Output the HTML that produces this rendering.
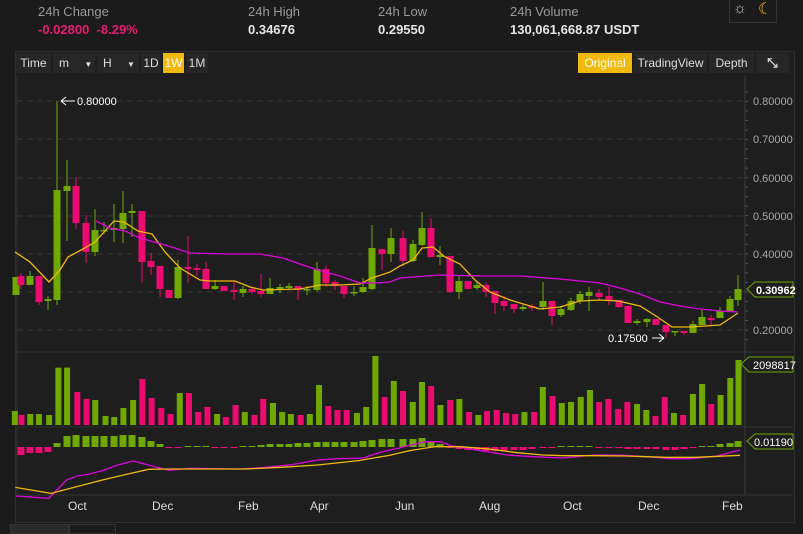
<!DOCTYPE html>
<html><head><meta charset="utf-8"><style>
body{margin:0;width:803px;height:532px;background:#1b1b1b;overflow:hidden;font-family:"Liberation Sans",sans-serif;position:relative}
.t{position:absolute;white-space:nowrap}
.lab{color:#9a9a9a;font-size:13px}
.val{color:#e6e6e6;font-size:13px;font-weight:bold}
.btn{position:absolute;top:53px;height:20px;line-height:20px;font-size:12px;color:#ddd;background:#262626;text-align:center}
.y{background:#f0b90b;color:#fff}
</style></head><body>
<div class="t lab" style="left:38px;top:4px">24h Change</div>
<div class="t val" style="left:38px;top:22px;color:#ea1a6e">-0.02800 &nbsp;-8.29%</div>
<div class="t lab" style="left:248px;top:4px">24h High</div>
<div class="t val" style="left:248px;top:22px">0.34676</div>
<div class="t lab" style="left:378px;top:4px">24h Low</div>
<div class="t val" style="left:378px;top:22px">0.29550</div>
<div class="t lab" style="left:510px;top:4px">24h Volume</div>
<div class="t val" style="left:510px;top:22px">130,061,668.87 USDT</div>
<div style="position:absolute;left:729px;top:0;width:46px;height:22px;border:1px solid #333;border-top:none"></div>
<div class="t" style="left:733px;top:0;color:#ccc;font-size:15px">☼</div>
<div class="t" style="left:758px;top:-1px;color:#f0b90b;font-size:16px">☾</div>
<div style="position:absolute;left:15px;top:51px;width:778px;height:470px;background:#1e1e1e;border:1px solid #2e2e2e"></div>
<div class="btn" style="left:16px;width:35px">Time</div>
<div class="btn" style="left:53px;width:42px;text-align:left;padding-left:6px;box-sizing:border-box">m <span style="font-size:8px;margin-left:12px">▼</span></div>
<div class="btn" style="left:97px;width:42px;text-align:left;padding-left:6px;box-sizing:border-box">H <span style="font-size:8px;margin-left:12px">▼</span></div>
<div class="btn" style="left:141px;width:20px">1D</div>
<div class="btn y" style="left:163px;width:21px">1W</div>
<div class="btn" style="left:186px;width:22px">1M</div>
<div class="btn y" style="left:578px;width:54px">Original</div>
<div class="btn" style="left:634px;width:73px">TradingView</div>
<div class="btn" style="left:709px;width:45px">Depth</div>
<div class="btn" style="left:756px;width:33px;font-weight:bold;font-size:13px">⤡</div>
<svg id="s" width="803" height="532" style="position:absolute;left:0;top:0" font-family="Liberation Sans, sans-serif">
<g id="g"></g>
<g fill="#a8a8a8" font-size="11">
<text x="753" y="105">0.80000</text><text x="753" y="143">0.70000</text><text x="753" y="182">0.60000</text>
<text x="753" y="220">0.50000</text><text x="753" y="258">0.40000</text><text x="753" y="334">0.20000</text>
</g>
<g fill="#ddd" font-size="12">
<text x="68" y="510">Oct</text><text x="152" y="510">Dec</text><text x="238" y="510">Feb</text><text x="310" y="510">Apr</text>
<text x="395" y="510">Jun</text><text x="479" y="510">Aug</text><text x="563" y="510">Oct</text><text x="638" y="510">Dec</text><text x="722" y="510">Feb</text>
</g>
<text x="77" y="105" fill="#fff" font-size="11">0.80000</text>
<path d="M61 101H75M61 101l5-4M61 101l5 4" stroke="#fff" fill="none"/>
<text x="608" y="342" fill="#fff" font-size="11">0.17500</text>
<path d="M652 338H664M664 338l-5-4M664 338l-5 4" stroke="#fff" fill="none"/>
<path d="M747 289l8-7h38v15h-38z" fill="#1e1e1e" stroke="#6fa800"/>
<text x="756" y="294" fill="#fff" font-size="11" font-weight="bold">0.30962</text>
<path d="M741 364l8-7h44v15h-44z" fill="#1e1e1e" stroke="#6fa800"/>
<text x="753" y="369" fill="#fff" font-size="11">2098817</text>
<path d="M747 441l8-7h38v15h-38z" fill="#1e1e1e" stroke="#6fa800"/>
<text x="754" y="446" fill="#fff" font-size="11">0.01190</text>
</svg>
<div style="position:absolute;left:10px;top:524px;width:58px;height:8px;background:#2a2a2a;border:1px solid #333"></div>
<div style="position:absolute;left:68px;top:524px;width:46px;height:8px;border:1px solid #333"></div>
<script>
var G='#6fa800',P='#ea0a70',h='',K=803/1568;
function ln(x1,y1,x2,y2,c,extra){h+='<line x1="'+x1+'" y1="'+y1+'" x2="'+x2+'" y2="'+y2+'" stroke="'+c+'" '+(extra||'')+'/>';}
[101,139,178,216,254,292,330].forEach(function(y){ln(17,y,745,y,'#353535','stroke-dasharray="6,4"');});
for(var p=0.175;p<0.83;p+=0.025){var y=330-(p-0.2)*381;ln(745,y,748,y,'#555');}
ln(745,76,745,495,'#3a3a3a');ln(17,352,793,352,'#333');ln(17,427,793,427,'#333');ln(17,495,793,495,'#333');ln(17,76,17,495,'#333');
var C=[[16,277,295,277,295,G],[21,276,285,273,289,P],[30,276,285,271,285,G],[39,276,302,276,305,P],[48,299,301,296,310,G],[57,190,300,101,305,G],[67,186,191,160,241,G],[76,186,223,177,229,P],[86,223,252,215,263,P],[95,230,252,209,256,G],[104,230,231,222,234,G],[114,228,230,204,242,G],[123,213,229,191,243,G],[132,211,213,204,237,G],[142,211,262,211,283,P],[151,261,267,253,275,P],[160,266,289,266,297,P],[169,290,298,290,298,P],[178,267,298,260,299,G],[188,267,269,236,283,P],[197,268,270,264,276,P],[206,269,289,262,289,P],[215,286,289,280,290,G],[224,286,291,286,291,P],[234,290,292,281,300,P],[243,289,293,286,297,G],[252,289,292,287,294,P],[261,291,294,274,297,P],[270,288,294,278,294,G],[280,287,289,284,293,G],[289,286,288,283,290,G],[298,286,290,286,300,P],[307,289,290,286,295,G],[317,269,290,262,292,G],[326,269,283,266,287,P],[335,282,286,280,290,P],[344,286,294,286,298,P],[354,292,293,286,296,G],[363,287,292,278,293,G],[372,248,289,225,290,G],[382,249,254,249,270,P],[391,238,254,228,262,G],[403,238,261,231,266,P],[413,244,261,240,262,G],[422,228,245,212,246,G],[431,228,257,218,257,P],[440,255,257,246,265,G],[450,256,292,256,293,P],[459,281,292,276,299,G],[468,281,289,281,289,P],[477,285,288,282,290,G],[486,285,292,282,297,P],[495,291,303,291,314,P],[504,301,306,296,311,P],[514,304,309,304,313,P],[523,307,309,305,311,G],[532,306,308,304,311,P],[543,301,307,282,310,G],[552,301,316,301,325,P],[561,309,315,306,317,G],[571,301,310,298,311,G],[580,294,301,291,304,G],[589,292,296,287,311,G],[599,293,297,289,300,P],[609,296,301,287,305,P],[619,300,307,300,308,P],[628,306,323,306,323,P],[637,321,323,319,325,G],[647,319,322,318,327,G],[656,319,325,319,325,P],[666,325,332,325,338,P],[675,331,332,331,336,G],[684,331,333,331,335,P],[693,324,333,321,333,G],[702,317,325,309,325,G],[711,318,320,315,325,P],[720,311,318,307,318,G],[730,299,312,296,312,G],[738,289,300,275,306,G]];
C.forEach(function(c){ln(c[0],c[3],c[0],c[4],c[5]);h+='<rect x="'+(c[0]-3.5)+'" y="'+c[1]+'" width="7" height="'+Math.max(1.5,c[2]-c[1])+'" fill="'+c[5]+'"/>';});
function pl(pts,c,sx,sy,ox,oy){var s=[];for(var i=0;i<pts.length;i+=2)s.push((ox+pts[i]*sx)+','+(oy+pts[i+1]*sy));h+='<polyline points="'+s.join(' ')+'" fill="none" stroke="'+c+'" stroke-width="1.3"/>';}
pl([15,252,30,262,49,282,60,270,68,257,83,249,95,242,114,221,124,222,138,231,152,234,165,252,180,268,200,280,210,281,235,281,250,287,263,290,300,289,320,285,340,285,360,284,372,278,390,272,400,266,413,260,422,248,433,247,445,257,460,264,475,280,490,292,510,300,540,309,560,307,580,301,600,300,618,301,640,306,656,316,672,327,690,327,720,325,738,313],'#f0b90b',1,1,0,0);
pl([96,221,110,228,125,231,140,238,165,245,190,253,225,254,260,254,283,258,300,264,315,269,340,276,360,283,375,283,390,282,400,278,440,275,480,276,520,276,560,279,600,283,620,288,640,294,660,302,680,306,700,309,720,311,738,312],'#e000e0',1,1,0,0);
var V=[[29,'g',183],[42,'p',195],[59,'g',192],[76,'g',192],[96,'g',195],[114,'g',53],[131,'g',53],[151,'p',126],[169,'p',147],[186,'g',150],[206,'g',198],[223,'g',201],[241,'g',174],[260,'g',150],[278,'p',87],[296,'p',144],[315,'p',174],[333,'p',192],[351,'g',129],[369,'p',129],[387,'p',186],[405,'p',171],[424,'g',192],[441,'p',201],[460,'p',165],[478,'g',186],[497,'p',195],[514,'p',147],[533,'g',159],[551,'g',186],[568,'g',192],[587,'p',195],[605,'g',192],[623,'g',105],[641,'p',168],[659,'p',180],[677,'p',180],[697,'g',189],[715,'g',171],[733,'g',18],[751,'p',141],[769,'g',93],[787,'p',123],[806,'g',156],[824,'g',96],[842,'p',108],[860,'g',165],[879,'p',150],[897,'g',147],[916,'p',186],[934,'g',195],[951,'p',183],[970,'p',180],[988,'p',189],[1006,'p',192],[1024,'g',186],[1043,'p',186],[1060,'g',111],[1079,'p',138],[1097,'g',159],[1115,'g',156],[1134,'g',141],[1152,'g',120],[1170,'p',156],[1188,'p',147],[1207,'p',177],[1225,'p',156],[1244,'g',162],[1262,'g',180],[1280,'p',198],[1298,'p',141],[1316,'g',189],[1334,'p',195],[1353,'g',132],[1371,'g',102],[1389,'p',162],[1407,'g',135],[1426,'g',84],[1442,'g',30]];
V.forEach(function(v){var x=v[0]*K,y=350+v[2]/3;h+='<rect x="'+(x-3)+'" y="'+y+'" width="6" height="'+(425-y)+'" fill="'+(v[1]=='g'?G:P)+'"/>';});
var M=[[21,-8],[30,-6],[39,-6],[48,-5],[57,4],[67,11],[76,12],[86,11],[95,11],[104,11],[114,11],[123,12],[132,12],[142,10],[151,6],[160,3],[169,-1],[178,-1],[188,1],[197,1],[206,1],[215,-1],[224,-1],[234,-1],[243,1],[252,1],[261,2],[270,3],[280,3],[289,3],[298,4],[307,4],[317,5],[326,5],[335,5],[344,5],[354,5],[363,6],[372,7],[382,8],[391,8],[403,8],[413,8],[422,9],[431,6],[440,3],[450,-1],[459,-2],[468,-3],[477,-3],[486,-4],[495,-4],[504,-4],[514,-3],[523,-3],[532,-2],[543,-1],[552,-1],[561,1],[571,1],[580,1],[589,1],[599,-1],[609,-1],[619,-1],[628,-2],[637,-2],[647,-2],[656,-2],[666,-3],[675,-3],[684,-2],[693,-1],[702,1],[711,1],[720,3],[730,4],[738,6]];
M.forEach(function(m){var y=m[1]>0?447-m[1]:447;h+='<rect x="'+(m[0]-3.5)+'" y="'+y+'" width="7" height="'+Math.max(1,Math.abs(m[1]))+'" fill="'+(m[1]>0?G:P)+'"/>';});
pl([30,438,95,445,130,390,150,378,170,374,200,362,230,345,260,333,290,345,330,361,370,355,420,356,470,357,520,352,570,344,620,330,660,326,710,324,740,308,790,290,830,275,860,275,880,287,930,300,990,315,1040,320,1100,324,1160,315,1220,316,1270,321,1310,326,1350,326,1400,318,1445,300],'#e000e0',K,1/3,0,350);
pl([30,412,100,430,150,410,200,390,250,372,290,358,330,357,400,357,480,357,550,352,620,345,700,332,760,316,800,302,850,290,900,290,960,298,1010,308,1060,315,1100,317,1160,317,1220,318,1300,322,1360,322,1445,316],'#f0b90b',K,1/3,0,350);
document.getElementById('g').innerHTML=h;
</script>
</body></html>
